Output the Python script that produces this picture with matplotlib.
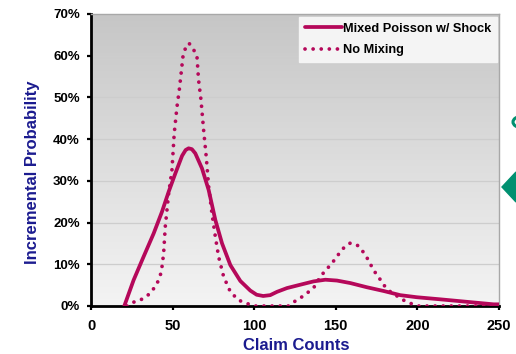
import matplotlib
matplotlib.use("Agg")
import matplotlib.pyplot as plt
import numpy as np
from matplotlib.patches import Polygon, Circle
from matplotlib.colors import LinearSegmentedColormap

# Data
mixed_x = [20.4, 26.1, 32.2, 38.4, 43.5, 47.6, 51.7, 55.8, 58.0, 59.8, 61.8, 63.9, 68.0, 72.1, 76.2,
           80.3, 85.4, 91.5, 97.6, 101.5, 105.5, 109.8, 114.0, 120.1, 128.2, 136.4, 143.6, 150.7,
           158.9, 169.0, 179.3, 189.5, 199.7, 214.0, 230.4, 246.7, 250.0]
mixed_y = [0.0, 0.062, 0.118, 0.174, 0.226, 0.274, 0.318, 0.360, 0.374, 0.378, 0.376, 0.366, 0.330,
           0.278, 0.206, 0.150, 0.098, 0.060, 0.037, 0.027, 0.024, 0.026, 0.034, 0.043, 0.051, 0.059,
           0.063, 0.061, 0.055, 0.045, 0.036, 0.026, 0.021, 0.016, 0.010, 0.004, 0.004]

nomix_x = [22.0, 25.1, 30.2, 36.3, 40.4, 42.5, 43.5, 44.5, 45.5, 47.6, 49.6, 51.0, 52.7, 54.1, 56.4,
           58.2, 60.0, 61.8, 64.9, 65.9, 67.4, 69.0, 70.6, 72.1, 74.1, 76.2, 78.2, 81.3, 85.4, 90.4,
           95.6, 100.0, 121.0, 125.2, 129.3, 133.4, 136.8, 140.5, 143.6, 146.2, 149.1, 151.7, 154.8,
           158.9, 163.4, 166.7, 169.5, 171.8, 174.2, 177.3, 179.9, 183.5, 187.5, 191.5, 196.0,
           200.8, 250.0]
nomix_y = [0.0, 0.008, 0.014, 0.030, 0.053, 0.074, 0.094, 0.126, 0.190, 0.270, 0.326, 0.414, 0.478,
           0.518, 0.600, 0.622, 0.630, 0.622, 0.600, 0.542, 0.494, 0.422, 0.358, 0.286, 0.222, 0.166,
           0.118, 0.070, 0.034, 0.014, 0.006, 0.0, 0.0, 0.012, 0.022, 0.034, 0.046, 0.070, 0.085,
           0.096, 0.110, 0.124, 0.139, 0.151, 0.145, 0.130, 0.113, 0.096, 0.080, 0.063, 0.048, 0.034,
           0.024, 0.014, 0.006, 0.0, 0.0]

x_ticks = [0, 50, 100, 150, 200, 250]
y_ticks = [0, 0.1, 0.2, 0.3, 0.4, 0.5, 0.6, 0.7]
y_ticklabels = ["0%", "10%", "20%", "30%", "40%", "50%", "60%", "70%"]

line_color = "#B5085A"
label_color = "#1B1B8F"

plt.rcParams['font.family'] = ['Liberation Sans', 'DejaVu Sans']

W, H = 516, 354
fig = plt.figure(figsize=(W / 100, H / 100), dpi=100)
ax = fig.add_axes([91 / W, 1 - 306 / H, (499 - 91) / W, (306 - 14) / H])

# gradient background (dark at top, light at bottom)
grad = np.linspace(0, 1, 256).reshape(-1, 1)
cmap = LinearSegmentedColormap.from_list("bg", ["#C6C6C6", "#F4F4F4"])
ax.imshow(grad, aspect="auto", cmap=cmap, extent=[0, 1, 0, 1], origin="upper",
          transform=ax.transAxes, zorder=0)

ax.set_xlim(0, 250)
ax.set_ylim(0, 0.7)
for y in y_ticks[1:]:
    ax.axhline(y, color="#CDCDCD", lw=0.9, zorder=1)

ax.plot(mixed_x, mixed_y, color=line_color, lw=2.7, solid_capstyle="round",
        solid_joinstyle="round", zorder=3, label="Mixed Poisson w/ Shock")
ax.plot(nomix_x, nomix_y, color=line_color, lw=2.7, linestyle=(0, (0.01, 2.15)),
        dash_capstyle="round", zorder=3, label="No Mixing")

ax.set_xticks(x_ticks)
ax.set_xticklabels([str(v) for v in x_ticks], fontsize=10.5, fontweight="bold")
ax.set_yticks(y_ticks)
ax.set_yticklabels(y_ticklabels, fontsize=9.5, fontweight="bold")
ax.tick_params(axis="both", direction="out", length=3, width=1.6, color="black")
ax.tick_params(axis="x", pad=6)
ax.tick_params(axis="y", pad=5)

for s in ["left", "bottom"]:
    ax.spines[s].set_linewidth(2)
    ax.spines[s].set_color("black")
for s in ["top", "right"]:
    ax.spines[s].set_linewidth(1)
    ax.spines[s].set_color("#A8A8A8")

ax.set_ylabel("Incremental Probability", fontsize=12, fontweight="bold", color=label_color)
ax.yaxis.label.set_va("center")
ax.yaxis.set_label_coords((33 - 91) / 408, (306 - 172) / 292)
ax.set_xlabel("Claim Counts", fontsize=12, fontweight="bold", color=label_color)
ax.xaxis.label.set_va("center")
ax.xaxis.set_label_coords((296 - 91) / 408, (306 - 345) / 292)

leg = ax.legend(loc="upper right", bbox_to_anchor=((497 - 91) / 408, (306 - 17) / 292),
                prop={"weight": "bold", "size": 9.2}, frameon=True, fancybox=False,
                handlelength=2.9, handletextpad=0.1, borderpad=0.45, labelspacing=0.75,
                borderaxespad=0)
leg.get_frame().set_facecolor("#F4F4F4")
leg.get_frame().set_edgecolor("#F4F4F4")
leg.get_frame().set_alpha(1)

# decorations at the right edge
green = "#009070"
tri = Polygon([[502 / W, 1 - 187 / H], [516 / W, 1 - 172 / H], [516 / W, 1 - 202 / H]],
              closed=True, transform=fig.transFigure, color=green, clip_on=False)
fig.patches.append(tri)
circ = Circle((521 / W, 1 - 122 / H), 8 / W, transform=fig.transFigure, fill=False,
              edgecolor=green, lw=2.2, clip_on=False)
fig.patches.append(circ)

fig.savefig("out.png", dpi=100)
